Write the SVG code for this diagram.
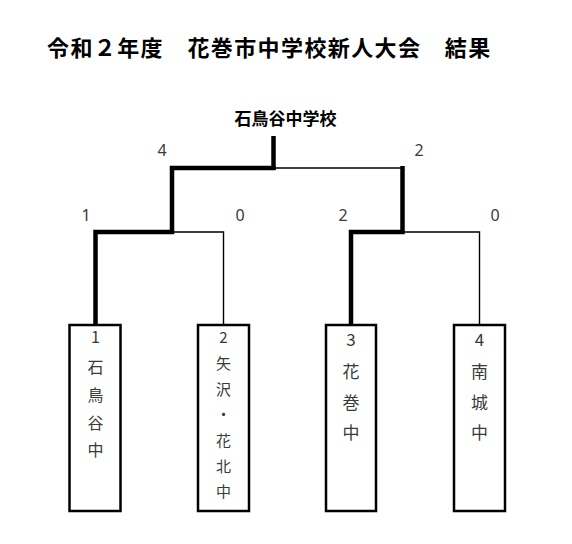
<svg xmlns="http://www.w3.org/2000/svg" width="572" height="544" viewBox="0 0 572 544">
<style>
.title{font-family:"Noto Sans CJK JP","Noto Sans",sans-serif;font-weight:bold;fill:#000}
.score{font-family:"Noto Sans","Noto Sans CJK JP",sans-serif;font-size:16px;fill:#3a3a3a;text-anchor:middle}
.name{font-family:"Noto Sans CJK JP",sans-serif;fill:#3a3a3a;text-anchor:middle}
.box{fill:#fff;stroke:#000;stroke-width:2.5}
.thick{stroke:#000;stroke-width:4.5;fill:none}
.thin{stroke:#000;stroke-width:1.4;fill:none}
</style>
<rect width="572" height="544" fill="#fff"/>
<text class="title" x="47" y="56" font-size="22" letter-spacing="1.4">令和２年度　花巻市中学校新人大会　結果</text>
<text class="title" x="285.5" y="125" font-size="17" text-anchor="middle">石鳥谷中学校</text>
<g id="connectors">
<path class="thin" d="M273 168H403"/>
<path class="thin" d="M172 232H223.5V325"/>
<path class="thin" d="M402 232H479.5V325"/>
<path class="thick" d="M273.5 136V170"/>
<path class="thick" d="M275.5 168H172V232H95.5V325"/>
<path class="thick" d="M402.5 166V232H351V325"/>
</g>
<g id="scores">
<text class="score" x="162" y="156">4</text>
<text class="score" x="419" y="156">2</text>
<text class="score" x="86" y="221">1</text>
<text class="score" x="240" y="221">0</text>
<text class="score" x="343" y="221">2</text>
<text class="score" x="495" y="221">0</text>
</g>
<g id="team1">
<rect class="box" x="69.5" y="325" width="51" height="186"/>
<text class="name" font-size="16" x="95.5" y="343">1</text>
<text class="name" font-size="16" x="95.5" y="373">石</text>
<text class="name" font-size="16" x="95.5" y="401">鳥</text>
<text class="name" font-size="16" x="95.5" y="429">谷</text>
<text class="name" font-size="16" x="95.5" y="456">中</text>
</g>
<g id="team2">
<rect class="box" x="198" y="325" width="51" height="186"/>
<text class="name" font-size="15" x="223.5" y="343">2</text>
<text class="name" font-size="15" x="223.5" y="369">矢</text>
<text class="name" font-size="15" x="223.5" y="394.5">沢</text>
<text class="name" font-size="15" x="223.5" y="420">・</text>
<text class="name" font-size="15" x="223.5" y="446">花</text>
<text class="name" font-size="15" x="223.5" y="471.5">北</text>
<text class="name" font-size="15" x="223.5" y="497">中</text>
</g>
<g id="team3">
<rect class="box" x="326" y="325" width="50" height="186"/>
<text class="name" font-size="17" x="351" y="346">3</text>
<text class="name" font-size="17" x="351" y="378">花</text>
<text class="name" font-size="17" x="351" y="409">巻</text>
<text class="name" font-size="17" x="351" y="439">中</text>
</g>
<g id="team4">
<rect class="box" x="454" y="325" width="51" height="186"/>
<text class="name" font-size="17" x="479.5" y="346">4</text>
<text class="name" font-size="17" x="479.5" y="378">南</text>
<text class="name" font-size="17" x="479.5" y="409">城</text>
<text class="name" font-size="17" x="479.5" y="439">中</text>
</g>
</svg>
